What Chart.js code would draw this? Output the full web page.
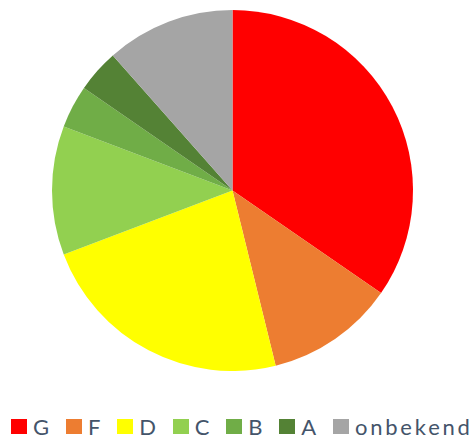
<!DOCTYPE html>
<html>
<head>
    <meta charset="UTF-8">
    <title>Energielabels</title>
    <script src="https://cdn.jsdelivr.net/npm/chart.js"></script>
    <style>
        body { margin: 0; background: #fff; width: 476px; height: 437px; position: relative; overflow: hidden; }
        #wrap { position: absolute; left: 0; top: 10px; width: 465px; height: 361px; }
        #legend { position: absolute; left: 11px; top: 414px; display: flex; align-items: center;
                  font-family: Lato, "Open Sans", sans-serif; font-size: 22px; color: #44546A; white-space: nowrap; }
        .item { display: flex; align-items: center; margin-right: 14px; }
        .box { width: 16px; height: 15px; margin-right: 6px; }
        .txt { letter-spacing: 2.8px; line-height: 25px; }
    </style>
</head>
<body>
    <div id="wrap"><canvas id="pieChart" width="465" height="361"></canvas></div>
    <div id="legend"></div>

    <script>
        // labels en aantallen
        const labels = ['G', 'F', 'D', 'C', 'B', 'A', 'onbekend'];
        const values = [9, 3, 6, 3, 1, 1, 3];
        const colors = ['#FF0000', '#ED7D31', '#FFFF00', '#92D050', '#70AD47', '#548235', '#A5A5A5'];

        const ctx = document.getElementById('pieChart').getContext('2d');
        const pieChart = new Chart(ctx, {
            type: 'pie',
            data: {
                labels: labels,
                datasets: [{ data: values, backgroundColor: colors, borderWidth: 0 }]
            },
            options: {
                responsive: false,
                animation: false,
                layout: { padding: 0 },
                plugins: { legend: { display: false }, tooltip: { enabled: false } }
            }
        });

        // legenda onder de grafiek
        const legend = document.getElementById('legend');
        labels.forEach((lab, i) => {
            const item = document.createElement('div');
            item.className = 'item';
            item.innerHTML = `<span class="box" style="background:${colors[i]}"></span><span class="txt">${lab}</span>`;
            legend.appendChild(item);
        });
    </script>
</body>
</html>
